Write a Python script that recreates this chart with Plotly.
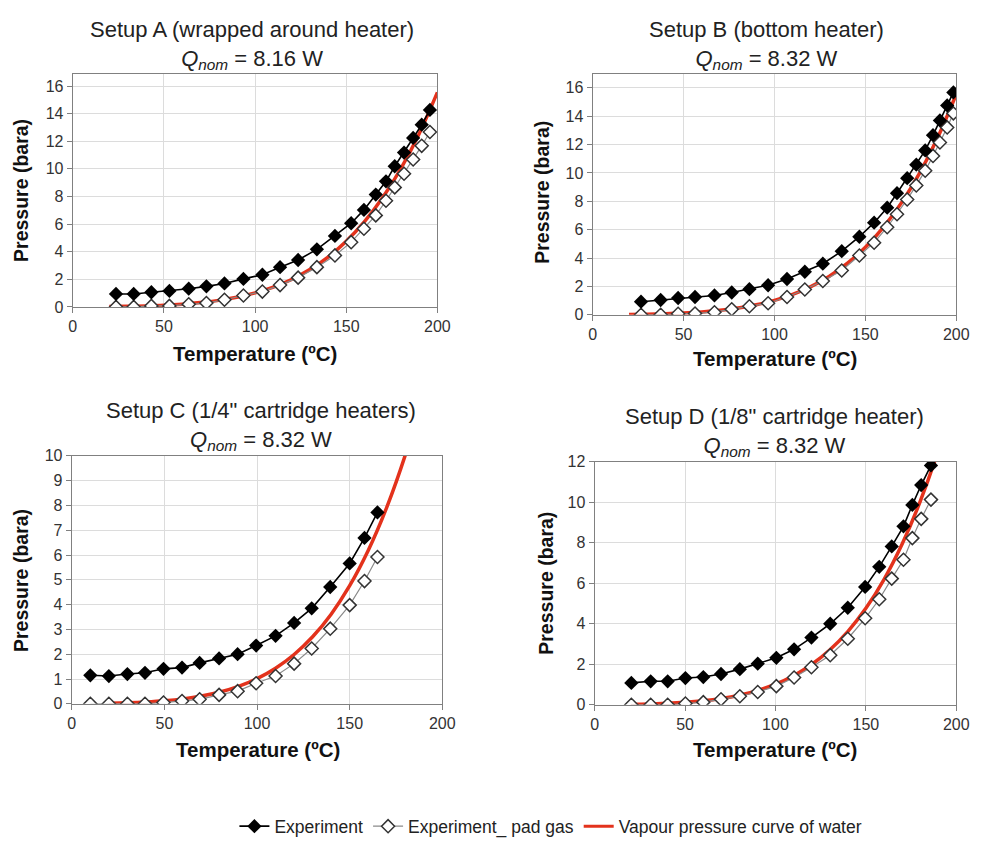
import plotly.graph_objects as go
from plotly.subplots import make_subplots

# ---------------- data ----------------
# Setup A
a_temp = [23.7, 33.4, 43.1, 53, 63.6, 73.3, 83.2, 93.6, 104, 113.7, 123.6, 133.9, 143.8,
          152.7, 159.7, 166.2, 171.8, 176.6, 181.7, 186.7, 191.4, 195.9]
a_exp = [0.94, 0.94, 1.06, 1.16, 1.32, 1.49, 1.70, 2.03, 2.33, 2.88, 3.40, 4.17, 5.14,
         6.06, 7.03, 8.14, 9.10, 10.19, 11.18, 12.24, 13.20, 14.27]
a_pad = [0.0, 0.0, 0.07, 0.07, 0.19, 0.28, 0.52, 0.83, 1.11, 1.58, 2.12, 2.88, 3.73,
         4.69, 5.66, 6.63, 7.69, 8.66, 9.65, 10.68, 11.67, 12.67]
# Setup B
b_temp = [26.6, 37.4, 47, 56.3, 67, 76.5, 86.2, 96.5, 106.9, 116.7, 126.6, 137, 146.7,
          154.8, 162, 167.4, 173, 178, 182.9, 187.2, 191, 195, 198.4]
b_exp = [0.92, 1.04, 1.18, 1.25, 1.36, 1.57, 1.80, 2.08, 2.52, 3.03, 3.60, 4.48, 5.50,
         6.49, 7.55, 8.57, 9.63, 10.58, 11.59, 12.66, 13.70, 14.76, 15.68]
b_pad = [0.0, 0.0, 0.07, 0.09, 0.18, 0.39, 0.60, 0.81, 1.25, 1.78, 2.38, 3.12, 4.18,
         5.08, 6.17, 7.09, 8.13, 9.12, 10.16, 11.20, 12.15, 13.21, 14.20]
# Setup C
c_temp = [10, 20, 30, 39.5, 49.5, 59.5, 69, 79.5, 89.5, 99.5, 110, 120, 129.5, 139.5,
          150, 158, 165]
c_exp = [1.15, 1.12, 1.20, 1.25, 1.41, 1.46, 1.65, 1.83, 2.00, 2.35, 2.74, 3.26, 3.85,
         4.71, 5.66, 6.69, 7.72]
c_pad = [0.0, 0.0, 0.0, 0.0, 0.05, 0.11, 0.18, 0.36, 0.51, 0.83, 1.12, 1.62, 2.23, 3.03,
         3.98, 4.95, 5.92]
# Setup D
d_temp = [20.3, 31, 40.4, 50.2, 60.1, 69.9, 80.3, 90.2, 100.5, 110.3, 119.9, 130.3, 140,
          149.6, 157.4, 164.3, 170.8, 175.7, 180.6, 186]
d_exp = [1.08, 1.16, 1.16, 1.32, 1.37, 1.52, 1.76, 2.03, 2.32, 2.74, 3.32, 4.00, 4.79,
         5.82, 6.81, 7.82, 8.81, 9.87, 10.85, 11.82]
d_pad = [0.0, 0.0, 0.0, 0.06, 0.13, 0.27, 0.42, 0.63, 0.92, 1.35, 1.85, 2.45, 3.26, 4.27,
         5.21, 6.23, 7.16, 8.23, 9.18, 10.13]
# Vapour pressure curve of water (bar)
vap_temp = [20, 30, 40, 50, 60, 70, 80, 90, 100, 110, 120, 130, 140, 150, 160, 170, 180,
            190, 200]
vap_p = [0.023, 0.042, 0.074, 0.123, 0.199, 0.312, 0.474, 0.702, 1.014, 1.434, 1.987,
         2.703, 3.615, 4.762, 6.182, 7.922, 10.028, 12.552, 15.549]

titles = ["Setup A (wrapped around heater)", "Setup B (bottom heater)",
          "Setup C (1/4\" cartridge heaters)", "Setup D (1/8\" cartridge heater)"]
powers = ["8.16", "8.32", "8.32", "8.32"]
y_ranges = [[0, 16.9], [0, 17.0], [0, 10], [0, 12]]
y_dticks = [2, 2, 1, 2]
x_ticks = [0, 50, 100, 150, 200]

W, H = 985, 850
FONT = "Liberation Sans, Arial, sans-serif"

# plot areas in pixels (left, right, top, bottom)
areas = [(70, 441, 67, 305), (599, 969, 67, 313), (69, 446, 457, 710), (601, 969, 463, 711)]
title_pos = [(252, 38), (776, 38), (262, 427), (784, 433)]
ytitle_pos = [(18, 186), (548, 188), (18, 584), (552, 587)]
xtitle_pos = [(255, 353), (785, 358), (258, 757), (785, 757)]

sets = [(a_temp, a_exp, a_pad), (b_temp, b_exp, b_pad), (c_temp, c_exp, c_pad),
        (d_temp, d_exp, d_pad)]

fig = make_subplots(rows=2, cols=2)

RED = "#e3321c"
for i, (t, e, p) in enumerate(sets):
    r, c = i // 2 + 1, i % 2 + 1
    show = i == 0
    fig.add_trace(go.Scatter(x=vap_temp, y=vap_p, mode="lines", line=dict(color=RED, width=3.5, shape="spline"),
                             name="Vapour pressure curve of water", showlegend=False, legendrank=3),
                  row=r, col=c)
    fig.add_trace(go.Scatter(x=t, y=p, mode="lines+markers", name="Experiment_ pad gas",
                             line=dict(color="#8a8a8a", width=1.2),
                             marker=dict(symbol="diamond", size=10, color="white",
                                         line=dict(color="#333333", width=1.5)),
                             showlegend=show, legendrank=2), row=r, col=c)
    fig.add_trace(go.Scatter(x=t, y=e, mode="lines+markers", name="Experiment",
                             line=dict(color="black", width=1.6),
                             marker=dict(symbol="diamond", size=11, color="black"),
                             showlegend=show, legendrank=1), row=r, col=c)
    # legend entry for red line (ordered last)
    if show:
        fig.add_trace(go.Scatter(x=[None], y=[None], mode="lines", line=dict(color=RED, width=3),
                                 name="Vapour pressure curve of water", showlegend=True,
                                 legendrank=3), row=r, col=c)

annotations = []
for i in range(4):
    l, rr, tp, bt = areas[i]
    xa = "xaxis" if i == 0 else f"xaxis{i+1}"
    ya = "yaxis" if i == 0 else f"yaxis{i+1}"
    fig.layout[xa].update(domain=[l / W, rr / W], range=[0, 200], tickvals=x_ticks,
                          showgrid=True, gridcolor="#dcdcdc", gridwidth=1,
                          showline=True, linecolor="#808080", linewidth=1.2, mirror=True,
                          ticks="outside", ticklen=5, tickcolor="#808080",
                          tickfont=dict(size=16, color="#333333", family=FONT), zeroline=False)
    fig.layout[ya].update(domain=[1 - bt / H, 1 - tp / H], range=y_ranges[i], dtick=y_dticks[i],
                          tick0=0,
                          showgrid=True, gridcolor="#dcdcdc", gridwidth=1,
                          showline=True, linecolor="#808080", linewidth=1.2, mirror=True,
                          ticks="outside", ticklen=5, tickcolor="#808080",
                          tickfont=dict(size=16, color="#333333", family=FONT), zeroline=False)
    tx, ty = title_pos[i]
    annotations.append(dict(x=tx / W, y=1 - ty / H, xref="paper", yref="paper",
                            text=f"{titles[i]}<br><i>Q</i><sub><i>nom</i></sub> = {powers[i]} W",
                            showarrow=False, xanchor="center", yanchor="middle",
                            font=dict(size=22, color="#222222", family=FONT)))
    yx, yy = ytitle_pos[i]
    annotations.append(dict(x=yx / W, y=1 - yy / H, xref="paper", yref="paper",
                            text="<b>Pressure (bara)</b>", textangle=-90, showarrow=False,
                            xanchor="center", yanchor="middle",
                            font=dict(size=19.5, color="#111111", family=FONT)))
    xx, xy = xtitle_pos[i]
    annotations.append(dict(x=xx / W, y=1 - xy / H, xref="paper", yref="paper",
                            text="<b>Temperature (ºC)</b>", showarrow=False,
                            xanchor="center", yanchor="middle",
                            font=dict(size=20.5, color="#111111", family=FONT)))

fig.update_layout(
    width=W, height=H, margin=dict(l=0, r=0, t=0, b=0),
    paper_bgcolor="white", plot_bgcolor="white",
    font=dict(family=FONT, color="#222222"),
    annotations=annotations,
    legend=dict(orientation="h", x=0.565, y=1 - 835 / H, xanchor="center", yanchor="middle",
                font=dict(size=17.5, color="#222222", family=FONT), traceorder="normal",
                itemwidth=30, bgcolor="rgba(0,0,0,0)"),
)

fig.write_html("out.html")
